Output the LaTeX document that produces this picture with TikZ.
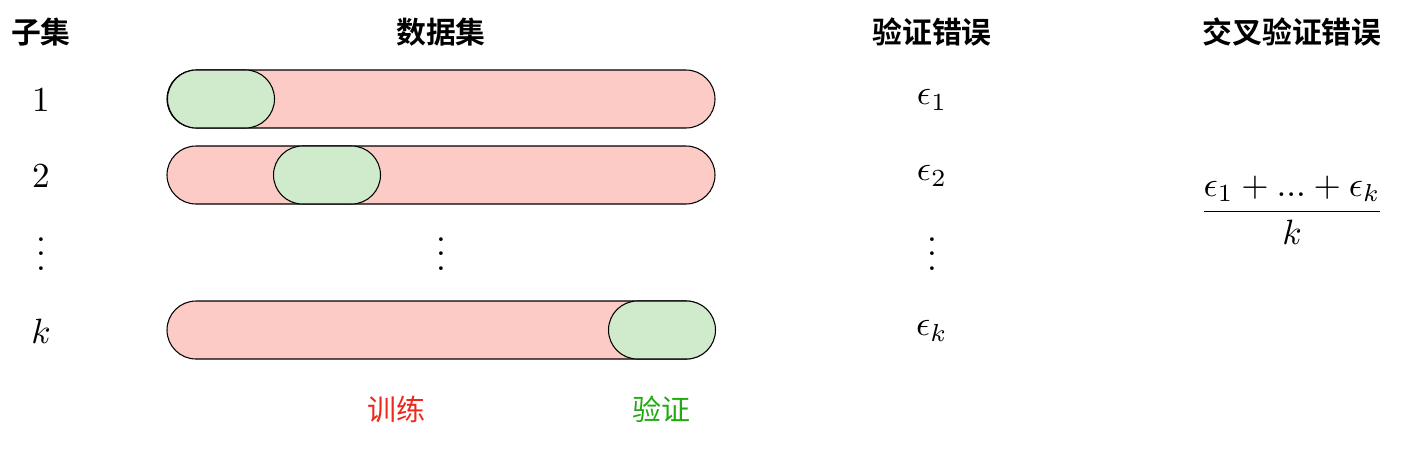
\documentclass[tikz,border=0pt]{standalone}
\usepackage{fontspec}
\usetikzlibrary{shapes.misc}
\newfontfamily\cjk{Noto Sans CJK SC}
\newfontfamily\cjkbold{Noto Sans CJK SC Bold}
\definecolor{trainfill}{RGB}{252,203,198}
\definecolor{valfill}{RGB}{207,235,203}
\definecolor{traintext}{RGB}{236,42,28}
\definecolor{valtext}{RGB}{34,170,18}
\tikzset{
  head/.style={font=\cjkbold\fontsize{17}{20}\selectfont, inner sep=0pt},
  lab/.style={font=\cjk\fontsize{16.5}{20}\selectfont, inner sep=0pt},
  mth/.style={font=\fontsize{10}{12}\selectfont, inner sep=0pt, scale=2, transform shape},
  trainbar/.style={rounded rectangle, draw=black, line width=0.6pt, fill=trainfill,
    minimum width=548*0.02cm, minimum height=58*0.02cm, inner sep=0pt},
  valbar/.style={rounded rectangle, draw=black, line width=0.6pt, fill=valfill,
    minimum width=107*0.02cm, minimum height=58*0.02cm, inner sep=0pt},
}
\begin{document}
\begin{tikzpicture}[x=0.02cm, y=-0.02cm]
\useasboundingbox (0,0) rectangle (1403,451);
% headers
\node[head] (h1) at (41,32) {子集};
\node[head] (h2) at (441,32) {数据集};
\node[head] (h3) at (932,32) {验证错误};
\node[head] (h4) at (1292,32) {交叉验证错误};
% subset indices
\node[mth] (n1) at (41,100) {$1$};
\node[mth] (n2) at (41,176) {$2$};
\node[mth, anchor=base] (nd) at (41,270) {$\vdots$};
\node[mth] (nk) at (41,331) {$k$};
% bars
\node[trainbar] (b1) at (441,99) {};
\node[valbar] (v1) at (221,99) {};
\node[trainbar] (b2) at (441,175) {};
\node[valbar] (v2) at (327,175) {};
\node[mth, anchor=base] (bd) at (441,270) {$\vdots$};
\node[trainbar] (bk) at (441,330) {};
\node[valbar] (vk) at (662,330) {};
% errors
\node[mth] (e1) at (932,100) {$\epsilon_1$};
\node[mth] (e2) at (932,176) {$\epsilon_2$};
\node[mth, anchor=base] (ed) at (932,270) {$\vdots$};
\node[mth] (ek) at (932,331) {$\epsilon_k$};
% cross validation
\node[mth, anchor=base] (cv) at (1292,220) {$\displaystyle\frac{\epsilon_1+...+\epsilon_k}{k}$};
% legend
\node[lab, text=traintext] (lt) at (396,409) {训练};
\node[lab, text=valtext] (lv) at (661,409) {验证};
\end{tikzpicture}
\end{document}
